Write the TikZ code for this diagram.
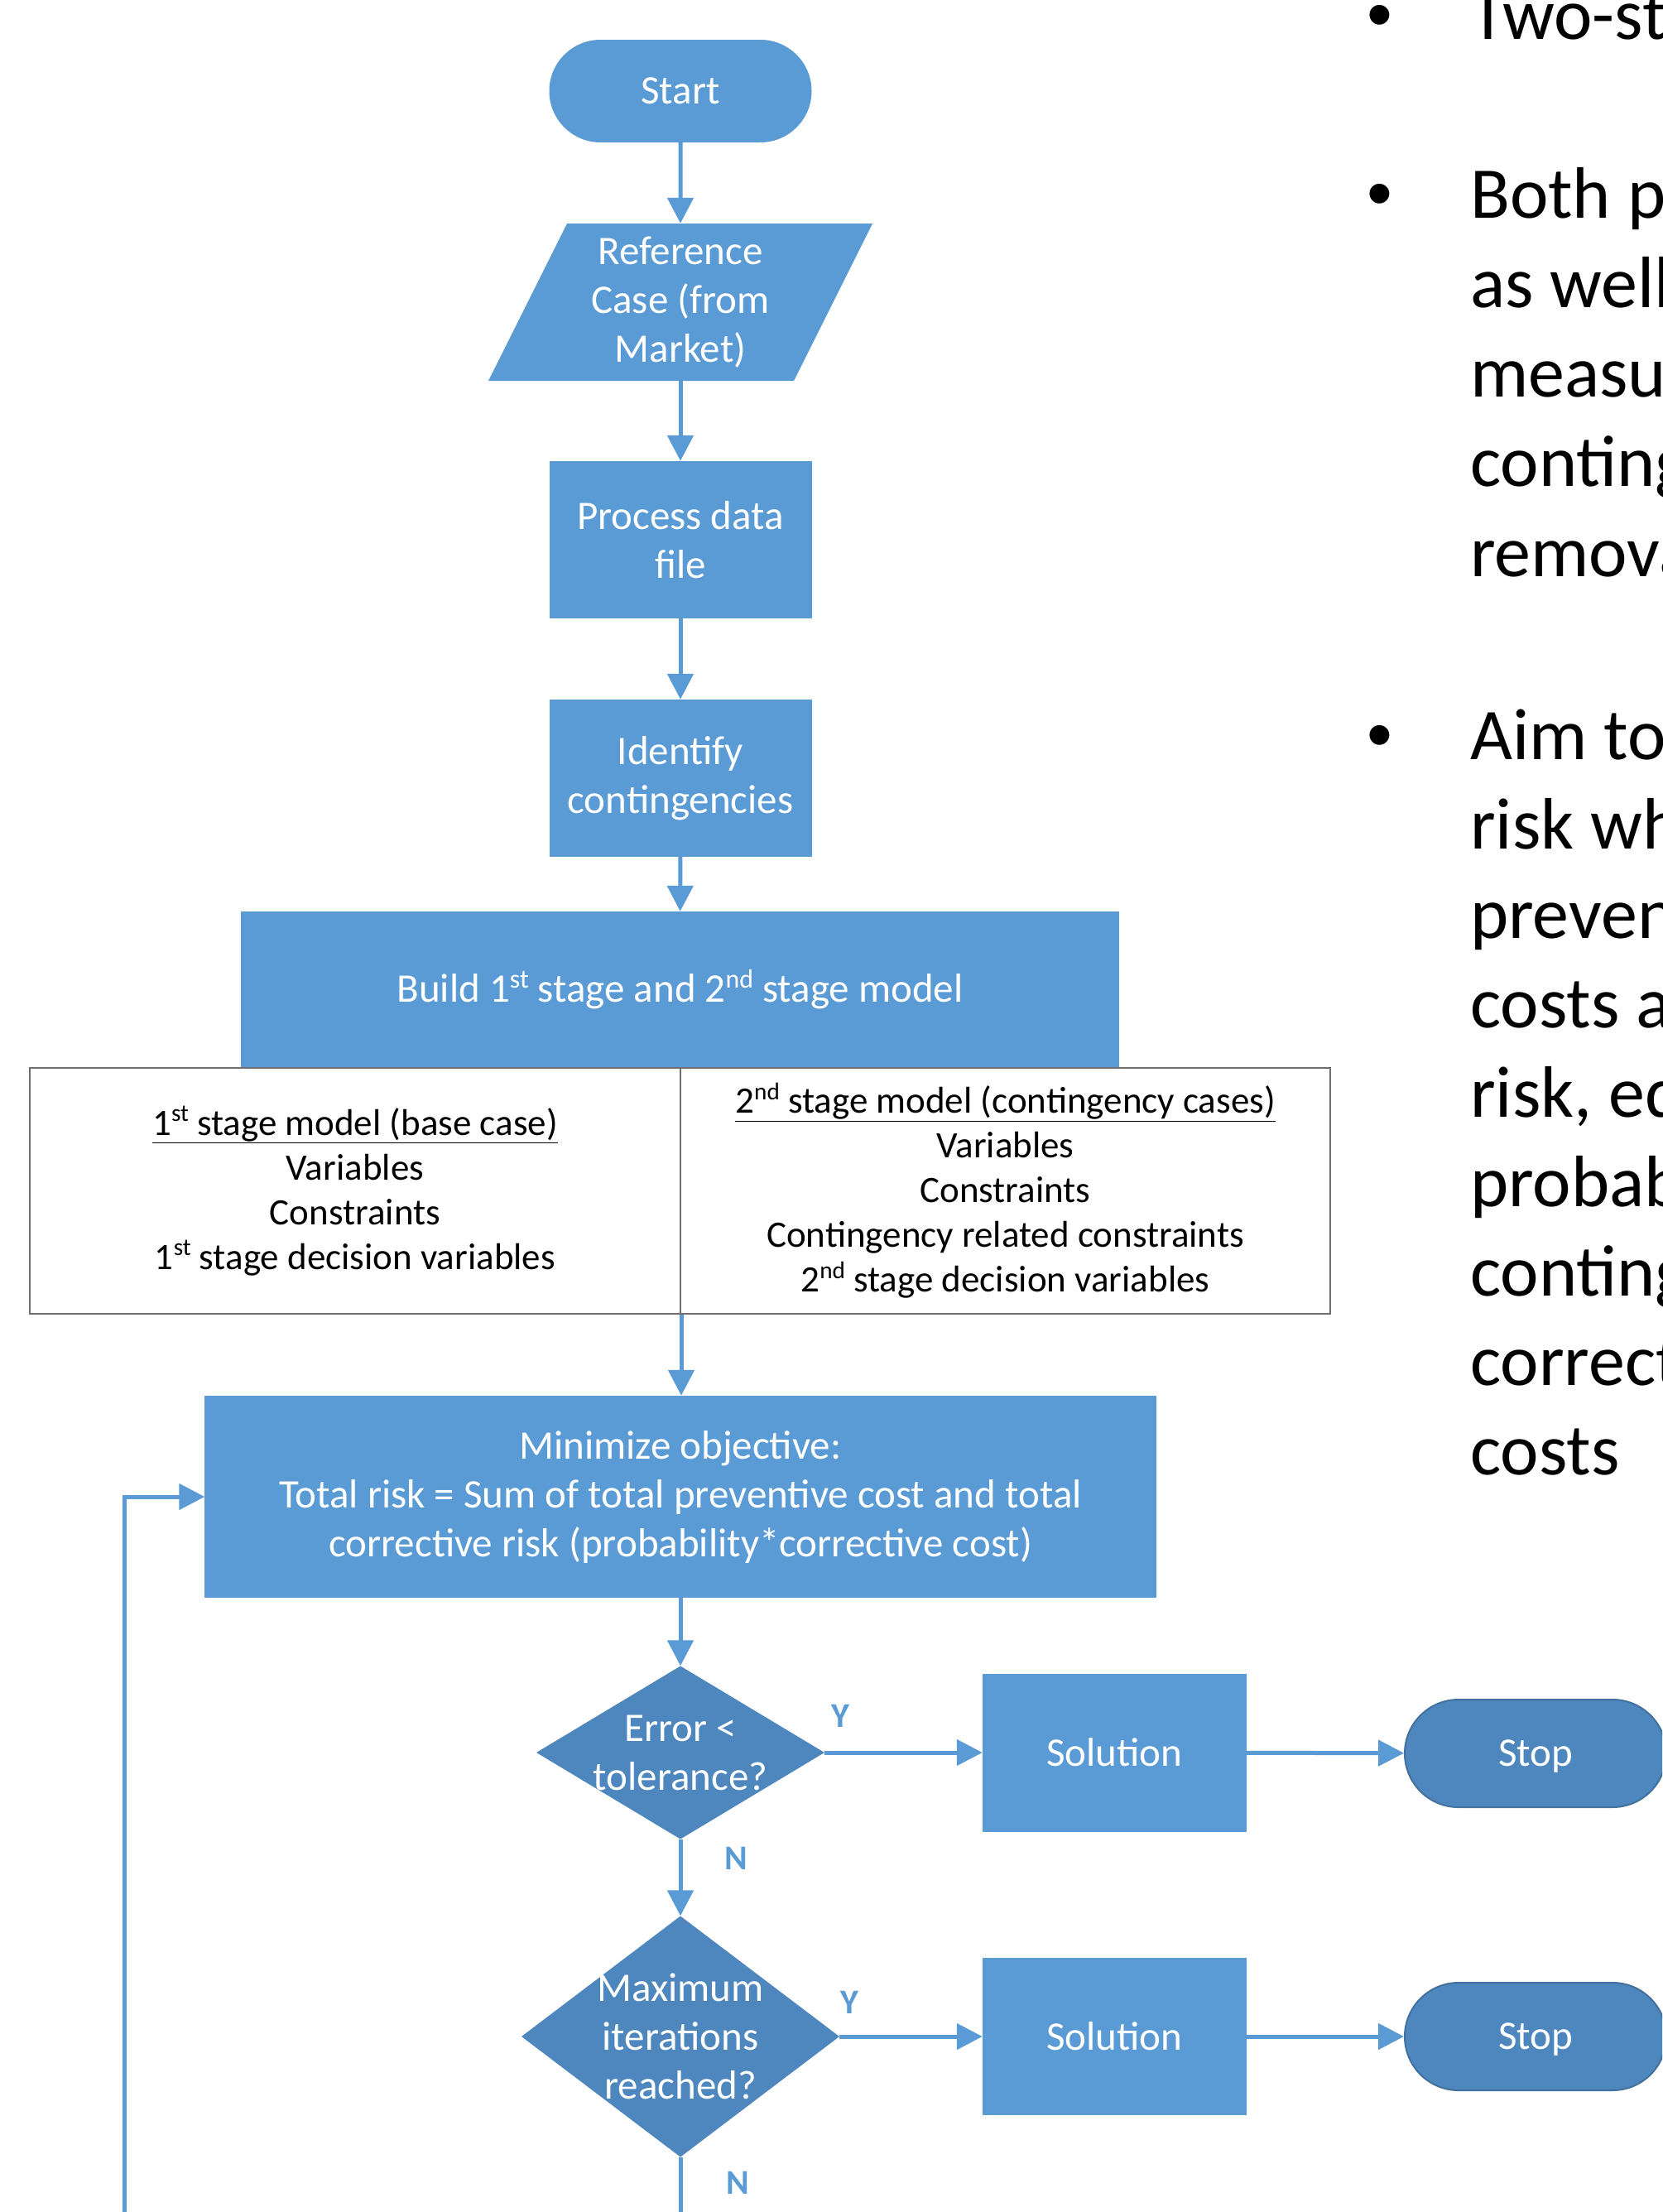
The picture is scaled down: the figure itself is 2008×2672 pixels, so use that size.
\documentclass[tikz,border=0pt]{standalone}
\usepackage{fontspec}
\usepackage{graphicx}
\setmainfont{Carlito}
\newfontfamily\bulletfont{Liberation Sans}
\usetikzlibrary{arrows.meta,shapes.misc}
\definecolor{boxblue}{HTML}{5B9BD5}
\definecolor{darkblue}{HTML}{4E86BE}
\definecolor{darkedge}{HTML}{41719C}
\definecolor{tablegray}{HTML}{6E6E6E}
\newcommand\upsc[1]{\raisebox{0.36em}{\scalebox{0.65}{#1}}}
\begin{document}
\begin{tikzpicture}[x=1bp,y=-1bp,
  every node/.style={font=\fontsize{49bp}{59bp}\selectfont, text=white, align=center, inner sep=0pt},
  procbox/.style={rectangle, fill=boxblue, minimum width=317bp, minimum height=190bp},
  termbox/.style={rounded rectangle, fill=boxblue, minimum width=317bp, minimum height=124bp},
  stopbox/.style={rounded rectangle, fill=darkblue, draw=darkedge, line width=2bp, minimum width=316bp, minimum height=130bp, text depth=0pt},
  decbox/.style={rectangle, fill=white, path picture={\fill[darkblue] (path picture bounding box.north) -- (path picture bounding box.east) -- (path picture bounding box.south) -- (path picture bounding box.west) -- cycle;}},
  parbox/.style={rectangle, fill=white, minimum width=464bp, minimum height=190bp, path picture={\fill[boxblue] (path picture bounding box.south west) -- ([xshift=-95bp]path picture bounding box.south east) -- (path picture bounding box.north east) -- ([xshift=95bp]path picture bounding box.north west) -- cycle;}},
  cellbox/.style={rectangle, draw=tablegray, line width=2bp, text=black, font=\fontsize{45bp}{54bp}\selectfont, minimum height=297bp},
  flow/.style={draw=boxblue, line width=5bp, -{Triangle[length=31bp,width=31bp]}},
  yn/.style={text=boxblue, font=\bfseries\fontsize{42bp}{50bp}\selectfont},
  bultext/.style={text=black, font=\fontsize{88bp}{108bp}\selectfont, anchor=base west, align=left},
  bulmark/.style={text=black, font=\bulletfont\fontsize{88bp}{108bp}\selectfont, anchor=base},
]
\useasboundingbox (0,0) rectangle (2008,2672);
\fill[white] (0,0) rectangle (2008,2672);
\clip (0,0) rectangle (2008,2672);

% flowchart nodes
\node[termbox] (start) at (822,110) {Start};
\node[parbox] (ref) at (822,365) {Reference\\Case (from\\Market)};
\node[procbox] (proc) at (822,652) {Process data\\file};
\node[procbox] (ident) at (822,940) {Identify\\contingencies};
\node[rectangle, fill=boxblue, minimum width=1061bp, minimum height=188bp] (build) at (821.5,1195)
  {Build 1\upsc{st} stage and 2\upsc{nd} stage model};
\node[cellbox, minimum width=786bp] (tl) at (429,1438.5)
  {\underline{1\upsc{st} stage model (base case)}\\Variables\\Constraints\\1\upsc{st} stage decision variables};
\node[cellbox, minimum width=785bp] (tr) at (1214.5,1438.5)
  {\underline{2\upsc{nd} stage model (contingency cases)}\\Variables\\Constraints\\Contingency related constraints\\2\upsc{nd} stage decision variables};
\node[rectangle, fill=boxblue, minimum width=1149bp, minimum height=244bp] (min) at (822,1808)
  {Minimize objective:\\Total risk = Sum of total preventive cost and total\\corrective risk (probability*corrective cost)};
\node[decbox, minimum width=348bp, minimum height=209bp] (d1) at (822,2117) {Error <\\tolerance?};
\node[decbox, minimum width=384bp, minimum height=291bp] (d2) at (822,2460) {Maximum\\iterations\\reached?};
\node[procbox, minimum width=319bp, minimum height=191bp] (sol1) at (1346.5,2117) {Solution};
\node[procbox, minimum width=319bp, minimum height=190bp] (sol2) at (1346.5,2460) {Solution};
\node[stopbox] (stop1) at (1855,2118) {Stop};
\node[stopbox] (stop2) at (1855,2460) {Stop};

% labels
\node[yn] (y1) at (1015,2073) {Y};
\node[yn] (y2) at (1026,2419) {Y};
\node[yn] (n1) at (889,2245) {N};
\node[yn] (n2) at (891,2637) {N};

% connectors
\draw[flow] (start) -- (ref);
\draw[flow] (ref) -- (proc);
\draw[flow] (proc) -- (ident);
\draw[flow] (ident) -- (build);
\draw[flow] (tl.south east) -- (tl.south east |- min.north);
\draw[flow] (min) -- (d1);
\draw[flow] (d1) -- (d2);
\draw[flow] (d1) -- (sol1);
\draw[flow] (sol1) -- (stop1);
\draw[flow] (d2) -- (sol2);
\draw[flow] (sol2) -- (stop2);
\coordinate (loopB) at (150,2720);
\draw[flow] (d2.south) -- (d2.south |- loopB) -- (loopB) |- (min.west);

% bullet text
\node[bulmark] (b1) at (1667,47) {•};
\node[bultext] (p1a) at (1776,47) {Two-stage};
\node[bulmark] (b2) at (1667,263) {•};
\node[bultext] (p2a) at (1776,263) {Both preventive};
\node[bultext] (p2b) at (1776,371) {as well as};
\node[bultext] (p2c) at (1776,479) {measures};
\node[bultext] (p2d) at (1776,587) {contingency};
\node[bultext] (p2e) at (1776,696) {removal};
\node[bulmark] (b3) at (1667,917) {•};
\node[bultext] (p3a) at (1776,917) {Aim to};
\node[bultext] (p3b) at (1776,1025) {risk which};
\node[bultext] (p3c) at (1776,1133) {preventive};
\node[bultext] (p3d) at (1776,1241) {costs and};
\node[bultext] (p3e) at (1776,1349) {risk, equal};
\node[bultext] (p3f) at (1776,1457) {probability};
\node[bultext] (p3g) at (1776,1565) {contingency};
\node[bultext] (p3h) at (1776,1673) {corrective};
\node[bultext] (p3i) at (1776,1781) {costs};
\end{tikzpicture}
\end{document}
